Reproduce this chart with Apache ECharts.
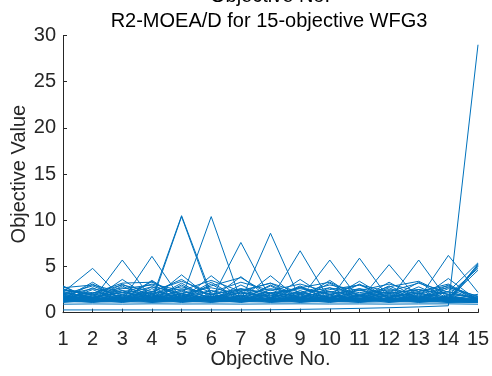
<!DOCTYPE html>
<html>
<head>
<meta charset="utf-8">
<script src="https://cdn.jsdelivr.net/npm/echarts@6/dist/echarts.min.js"></script>
<style>
  html, body { margin: 0; padding: 0; background: #fff; }
  #chart { width: 492px; height: 376px; }
</style>
</head>
<body>
<div id="chart"></div>
<script>
// Objective indices (x axis) and y ticks
const objectives = [1, 2, 3, 4, 5, 6, 7, 8, 9, 10, 11, 12, 13, 14, 15];
const yTicks = [0, 5, 10, 15, 20, 25, 30];

// Final population of R2-MOEA/D on 15-objective WFG3, one row per solution
const baseLow1 = [0.92, 0.95, 0.93, 0.96, 0.94, 0.95, 0.93, 0.95, 0.96, 0.94, 0.95, 0.93, 0.95, 0.96, 0.92];
const baseLow2 = [1.20, 1.15, 1.18, 1.14, 1.19, 1.16, 1.20, 1.15, 1.17, 1.19, 1.14, 1.18, 1.16, 1.15, 1.12];
const baseLow3 = [1.35, 1.25, 1.30, 1.28, 1.32, 1.26, 1.30, 1.27, 1.31, 1.25, 1.29, 1.33, 1.27, 1.30, 1.20];

const zig1 = [2.6, 1.2, 2.4, 1.3, 2.5, 1.2, 2.3, 1.3, 2.4, 1.2, 2.5, 1.3, 2.2, 1.2, 1.4];
const zig2 = [1.3, 2.5, 1.2, 2.6, 1.3, 2.4, 1.2, 2.5, 1.3, 2.3, 1.2, 2.4, 1.3, 2.6, 1.3];
const zig3 = [2.0, 1.3, 1.9, 1.2, 2.1, 1.3, 1.8, 1.2, 2.0, 1.3, 1.9, 1.2, 2.0, 1.3, 1.2];
const zig4 = [1.2, 1.9, 1.3, 2.0, 1.2, 1.8, 1.3, 2.1, 1.2, 1.9, 1.3, 2.0, 1.2, 1.8, 1.2];
const zig5 = [2.9, 1.4, 3.1, 1.5, 3.2, 1.4, 3.0, 1.5, 2.9, 1.4, 3.1, 1.5, 2.8, 1.4, 1.3];
const zig6 = [1.5, 3.1, 1.4, 3.4, 1.5, 3.3, 1.4, 3.0, 1.5, 3.2, 1.4, 2.9, 1.5, 3.0, 1.2];
const zig7 = [2.3, 1.4, 1.3, 2.8, 1.3, 1.4, 2.6, 1.3, 1.4, 2.7, 1.3, 1.4, 2.5, 1.3, 1.1];
const zig8 = [1.3, 2.7, 1.3, 1.4, 3.0, 1.3, 1.4, 2.9, 1.3, 1.4, 2.6, 1.3, 1.4, 2.8, 1.5];
const zig9 = [1.4, 1.3, 2.9, 1.3, 1.4, 3.1, 1.3, 1.4, 2.8, 1.3, 1.4, 2.7, 1.3, 1.4, 2.0];
const zig10 = [1.8, 1.2, 1.3, 1.7, 1.2, 1.3, 1.8, 1.2, 1.3, 1.6, 1.2, 1.3, 1.7, 1.2, 1.1];
const zig11 = [1.2, 1.6, 1.2, 1.3, 1.7, 1.2, 1.3, 1.6, 1.2, 1.3, 1.8, 1.2, 1.3, 1.7, 1.2];
const zig12 = [1.3, 1.2, 1.7, 1.2, 1.3, 1.8, 1.2, 1.3, 1.7, 1.2, 1.3, 1.6, 1.2, 1.3, 1.1];
const zig13 = [2.8, 1.5, 1.4, 1.5, 4.1, 1.5, 1.4, 1.5, 3.6, 1.5, 1.4, 1.5, 3.3, 1.5, 1.3];
const zig14 = [1.5, 3.3, 1.4, 1.5, 1.4, 4.0, 1.5, 1.4, 1.5, 3.5, 1.4, 1.5, 1.4, 3.7, 1.3];
const zig15 = [1.5, 1.4, 3.6, 1.5, 1.4, 1.5, 3.9, 1.5, 1.4, 1.5, 3.4, 1.5, 1.4, 1.5, 1.6];
const zig16 = [1.6, 1.5, 1.4, 3.5, 1.5, 1.4, 1.5, 4.0, 1.4, 1.5, 1.4, 3.3, 1.5, 1.4, 1.2];
const zig17 = [2.2, 1.7, 2.2, 1.8, 2.3, 1.7, 2.2, 1.8, 2.1, 1.7, 2.2, 1.8, 2.1, 1.7, 1.5];
const zig18 = [1.7, 2.2, 1.8, 2.3, 1.7, 2.4, 1.8, 2.2, 1.7, 2.3, 1.8, 2.2, 1.7, 2.3, 1.4];
const zig19 = [2.4, 2.0, 2.7, 2.1, 2.8, 2.0, 2.6, 2.1, 2.7, 2.0, 2.6, 2.1, 2.5, 2.0, 1.6];
const zig20 = [1.9, 2.6, 2.0, 2.8, 2.1, 2.7, 2.0, 2.6, 2.1, 2.7, 2.0, 2.5, 2.1, 2.7, 1.8];
const zig21 = [2.7, 3.0, 2.2, 3.1, 2.4, 3.5, 2.3, 3.2, 2.2, 3.0, 2.4, 3.1, 2.3, 2.9, 1.7];
const zig22 = [2.5, 2.1, 3.0, 2.3, 3.4, 2.2, 3.3, 2.4, 3.1, 2.2, 3.0, 2.3, 3.2, 2.2, 1.5];
const zig23 = [1.1, 1.4, 1.1, 1.5, 1.1, 1.4, 1.1, 1.5, 1.1, 1.4, 1.1, 1.5, 1.1, 1.4, 1.1];
const zig24 = [1.4, 1.1, 1.5, 1.1, 1.4, 1.1, 1.5, 1.1, 1.4, 1.1, 1.5, 1.1, 1.4, 1.1, 1.2];
const zig25 = [2.0, 2.9, 1.6, 2.2, 3.6, 1.7, 2.4, 3.2, 1.6, 2.5, 3.0, 1.7, 2.3, 3.1, 1.4];
const zig26 = [1.8, 1.6, 2.6, 3.0, 1.8, 2.9, 3.8, 1.9, 2.7, 3.3, 1.8, 2.8, 3.4, 1.9, 1.3];
const zig27 = [2.5, 1.9, 2.4, 2.0, 2.6, 2.0, 2.5, 2.1, 2.6, 2.0, 2.4, 2.1, 2.5, 2.0, 1.7];
const plateau = [1.5, 2.1, 3.2, 3.3, 1.9, 1.4, 1.6, 1.3, 1.5, 1.4, 1.6, 1.3, 1.5, 1.4, 1.2];

const peak2 = [2.2, 4.8, 1.5, 1.8, 1.4, 1.6, 1.3, 1.5, 1.4, 1.6, 1.3, 1.5, 1.4, 1.6, 1.3];
const peak3 = [1.6, 1.4, 5.7, 1.5, 1.8, 1.4, 1.6, 1.3, 1.5, 1.4, 1.6, 1.3, 1.5, 1.4, 1.2];
const peak4 = [1.8, 1.5, 1.3, 6.1, 1.4, 1.7, 1.3, 1.6, 1.4, 1.5, 1.3, 1.6, 1.4, 1.5, 1.3];
const peak5a = [1.4, 1.6, 1.3, 1.5, 10.5, 2.0, 1.4, 1.6, 1.3, 1.5, 1.4, 1.6, 1.3, 1.5, 1.2];
const peak5b = [1.5, 1.3, 1.7, 1.2, 10.4, 1.6, 1.5, 1.3, 1.6, 1.4, 1.5, 1.3, 1.6, 1.4, 1.3];
const peak6 = [1.3, 1.5, 1.4, 1.6, 1.5, 10.4, 1.3, 1.5, 1.4, 1.6, 1.3, 1.5, 1.4, 1.6, 1.2];
const peak7 = [1.7, 1.4, 1.6, 1.3, 1.5, 1.4, 7.6, 1.5, 1.3, 1.6, 1.4, 1.5, 1.3, 1.6, 1.3];
const peak8 = [1.4, 1.7, 1.3, 1.6, 1.4, 1.5, 1.3, 8.6, 1.4, 1.5, 1.3, 1.6, 1.4, 1.5, 1.2];
const peak9 = [1.6, 1.3, 1.5, 1.4, 1.6, 1.3, 1.5, 1.4, 6.7, 1.3, 1.5, 1.4, 1.6, 1.3, 1.2];
const peak10 = [1.5, 1.6, 1.4, 1.3, 1.5, 1.6, 1.4, 1.3, 1.5, 5.7, 1.4, 1.3, 1.5, 1.4, 1.3];
const peak11 = [1.3, 1.4, 1.6, 1.5, 1.3, 1.4, 1.6, 1.5, 1.3, 1.4, 5.9, 1.5, 1.3, 1.4, 1.2];
const peak12 = [1.6, 1.5, 1.3, 1.4, 1.6, 1.5, 1.3, 1.4, 1.6, 1.5, 1.3, 5.2, 1.4, 1.5, 1.3];
const peak13 = [1.4, 1.3, 1.5, 1.6, 1.4, 1.3, 1.5, 1.6, 1.4, 1.3, 1.5, 1.4, 5.7, 1.3, 1.2];
const peak14 = [1.5, 1.6, 1.4, 1.3, 1.5, 1.6, 1.4, 1.3, 1.5, 1.6, 1.4, 1.3, 1.5, 6.2, 2.2];

const last1 = [1.9, 1.4, 2.0, 1.5, 2.1, 1.4, 1.9, 1.5, 2.0, 1.4, 1.9, 1.5, 1.8, 1.4, 5.2];
const last2 = [1.3, 1.8, 1.4, 1.9, 1.3, 1.8, 1.4, 1.9, 1.3, 1.8, 1.4, 1.9, 1.3, 1.6, 5.0];
const last3 = [1.6, 1.3, 1.6, 1.3, 1.7, 1.3, 1.6, 1.3, 1.7, 1.3, 1.6, 1.3, 1.7, 1.2, 5.3];
const last4 = [1.2, 1.5, 1.2, 1.6, 1.2, 1.5, 1.2, 1.6, 1.2, 1.5, 1.2, 1.6, 1.2, 1.9, 4.8];
const last5 = [2.1, 1.6, 2.2, 1.7, 2.0, 1.6, 2.1, 1.7, 2.2, 1.6, 2.0, 1.7, 2.1, 1.5, 4.6];
const last6 = [1.4, 2.0, 1.5, 2.1, 1.4, 2.0, 1.5, 2.1, 1.4, 2.0, 1.5, 2.1, 1.4, 2.3, 5.4];
const last7 = [1.7, 1.2, 1.8, 1.2, 1.9, 1.2, 1.8, 1.2, 1.9, 1.2, 1.8, 1.2, 1.9, 1.1, 5.1];

const extreme = [0.30, 0.30, 0.30, 0.30, 0.30, 0.30, 0.30, 0.32, 0.36, 0.41, 0.47, 0.54, 0.63, 0.75, 29.0];

const population = [
  baseLow1, baseLow2, baseLow3,
  zig1, zig2, zig3, zig4, zig5, zig6, zig7, zig8, zig9, zig10,
  zig11, zig12, zig13, zig14, zig15, zig16, zig17, zig18, zig19, zig20,
  zig21, zig22, zig23, zig24, zig25, zig26, zig27,
  plateau,
  peak2, peak3, peak4, peak5a, peak5b, peak6, peak7, peak8, peak9,
  peak10, peak11, peak12, peak13, peak14,
  last1, last2, last3, last4, last5, last6, last7,
  extreme
];

const LINE_BLUE = '#0072BD';
const INK = '#262626';
const FONT = '"Liberation Sans", Arial, Helvetica, sans-serif';

const chart = echarts.init(document.getElementById('chart'), null, { renderer: 'canvas' });

const series = population.map(function (row) {
  return {
    type: 'line',
    data: row.map(function (v, i) { return [objectives[i], v]; }),
    symbol: 'none',
    silent: true,
    lineStyle: { color: LINE_BLUE, width: 1 },
    emphasis: { disabled: true }
  };
});

chart.setOption({
  animation: false,
  backgroundColor: '#ffffff',
  title: [
    {
      text: 'Objective No.',
      left: 270, top: -14, padding: 0,
      textAlign: 'center',
      textStyle: { fontFamily: FONT, fontSize: 20, fontWeight: 'normal', color: '#000' }
    },
    {
      text: 'R2-MOEA/D for 15-objective WFG3',
      left: 269, top: 11, padding: 0,
      textAlign: 'center',
      textStyle: { fontFamily: FONT, fontSize: 20, fontWeight: 'normal', color: '#000' }
    }
  ],
  grid: {
    left: 63, right: 14, top: 35.5, bottom: 63.3,
    containLabel: false,
    outerBoundsMode: 'none'
  },
  xAxis: {
    type: 'value',
    min: objectives[0],
    max: objectives[objectives.length - 1],
    interval: 1,
    name: 'Objective No.',
    nameLocation: 'middle',
    nameGap: 37,
    nameMoveOverlap: false,
    nameTextStyle: { fontFamily: FONT, fontSize: 20, color: INK },
    axisLine: { onZero: false, lineStyle: { color: INK, width: 1 } },
    axisTick: { inside: true, length: 4, lineStyle: { color: INK } },
    axisLabel: { fontFamily: FONT, fontSize: 20, color: INK, margin: 17 },
    splitLine: { show: false }
  },
  yAxis: {
    type: 'value',
    min: yTicks[0],
    max: yTicks[yTicks.length - 1],
    interval: yTicks[1] - yTicks[0],
    name: 'Objective Value',
    nameLocation: 'middle',
    nameRotate: 90,
    nameGap: 34,
    nameMoveOverlap: false,
    nameTextStyle: { fontFamily: FONT, fontSize: 20, color: INK },
    axisLine: { show: true, lineStyle: { color: INK, width: 1 } },
    axisTick: { show: true, inside: true, length: 4, lineStyle: { color: INK } },
    axisLabel: { fontFamily: FONT, fontSize: 20, color: INK, margin: 7 },
    splitLine: { show: false }
  },
  series: series
});
</script>
</body>
</html>
